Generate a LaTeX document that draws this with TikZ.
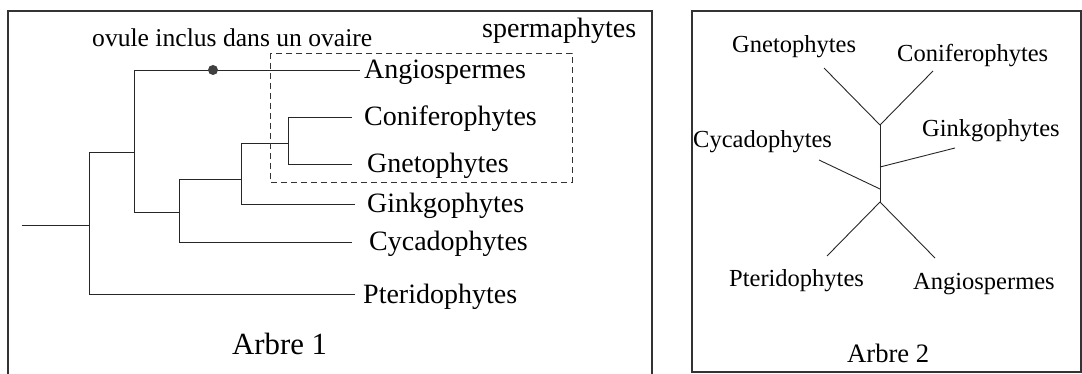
\documentclass[tikz,border=0pt]{standalone}
\usepackage{fontspec}
\setmainfont{Liberation Serif}
\begin{document}
\begin{tikzpicture}[x=1pt,y=-1pt,
  frame/.style={draw=black!80, line width=1.2pt},
  branch/.style={draw=black!85, line width=0.9pt},
  groupbox/.style={draw=black!80, line width=0.9pt, dash pattern=on 6pt off 4pt},
  leaf/.style={anchor=west, inner ysep=0pt, text height=18pt, text depth=0pt,
    font=\fontsize{28}{30}\selectfont},
  tip/.style={anchor=base west, inner sep=0pt, font=\fontsize{24.5}{26}\selectfont},
  caption/.style={anchor=base west, inner sep=0pt}]
\useasboundingbox (0,0) rectangle (1082,374);

% ---------- frames ----------
\draw[frame] (8,375) -- (8,11) -- (652,11) -- (652,375);
\draw[frame] (692,11) rectangle (1081,372);

% ---------- Arbre 1 : rooted tree ----------
\node[leaf, inner xsep=4pt]  (angio)  at (360,70)  {Angiospermes};
\node[leaf, inner xsep=12pt] (conif)  at (352,117) {Coniferophytes};
\node[leaf, inner xsep=15pt] (gneto)  at (352,164) {Gnetophytes};
\node[leaf, inner xsep=12pt] (ginkgo) at (355,204) {Ginkgophytes};
\node[leaf, inner xsep=17pt] (cycad)  at (352,242) {Cycadophytes};
\node[leaf, inner xsep=8pt]  (pter)   at (355,294) {Pteridophytes};

\coordinate (stem) at (22,225);
\coordinate (n0) at (89,225);
\coordinate (n1) at (134,152);
\coordinate (n2) at (179,212);
\coordinate (n3) at (241,179);
\coordinate (n4) at (288,143);

\draw[branch] (stem) -- (n0);
\draw[branch] (pter.west) -| (n0 |- n1) -- (n1);
\draw[branch] (angio.west) -| (n1 |- n2) -- (n2);
\draw[branch] (cycad.west) -| (n2 |- n3) -- (n3);
\draw[branch] (ginkgo.west) -| (n3 |- n4) -- (n4);
\draw[branch] (conif.west) -| (n4 |- gneto.west) -- (gneto.west);

% apomorphy mark on the angiosperm branch
\node[circle, fill=black!75, minimum size=10pt, inner sep=0pt] (ovaire) at (213,70) {};

% spermaphyte group
\draw[groupbox] (270,53) rectangle (572,182);

\node[caption, font=\fontsize{25.6}{27}\selectfont] (ovtxt) at (92,47) {ovule inclus dans un ovaire};
\node[caption, font=\fontsize{28}{30}\selectfont] (sperm) at (482,38) {spermaphytes};
\node[caption, font=\fontsize{30.8}{32}\selectfont] (arbre1) at (232,354) {Arbre 1};

% ---------- Arbre 2 : unrooted tree ----------
\coordinate (t1) at (880,125);
\coordinate (t2) at (880,167);
\coordinate (t3) at (880,189);
\coordinate (t4) at (880,202);
\coordinate (eGneto)  at (824,68);
\coordinate (eConif)  at (933,71);
\coordinate (eGinkgo) at (955,148);
\coordinate (eCycad)  at (819,160);
\coordinate (ePter)   at (827,256);
\coordinate (eAngio)  at (935,258);

\draw[branch] (t1) -- (t4);
\draw[branch] (t1) -- (eGneto);
\draw[branch] (t1) -- (eConif);
\draw[branch] (t2) -- (eGinkgo);
\draw[branch] (t3) -- (eCycad);
\draw[branch] (t4) -- (ePter);
\draw[branch] (t4) -- (eAngio);

\node[tip] (gneto2)  at (732,53)  {Gnetophytes};
\node[tip] (conif2)  at (897,62)  {Coniferophytes};
\node[tip] (ginkgo2) at (922,137) {Ginkgophytes};
\node[tip] (cycad2)  at (693,148) {Cycadophytes};
\node[tip] (pter2)   at (729,287) {Pteridophytes};
\node[tip] (angio2)  at (913,290) {Angiospermes};
\node[caption, font=\fontsize{26.6}{28}\selectfont] (arbre2) at (847,362) {Arbre 2};
\end{tikzpicture}
\end{document}
